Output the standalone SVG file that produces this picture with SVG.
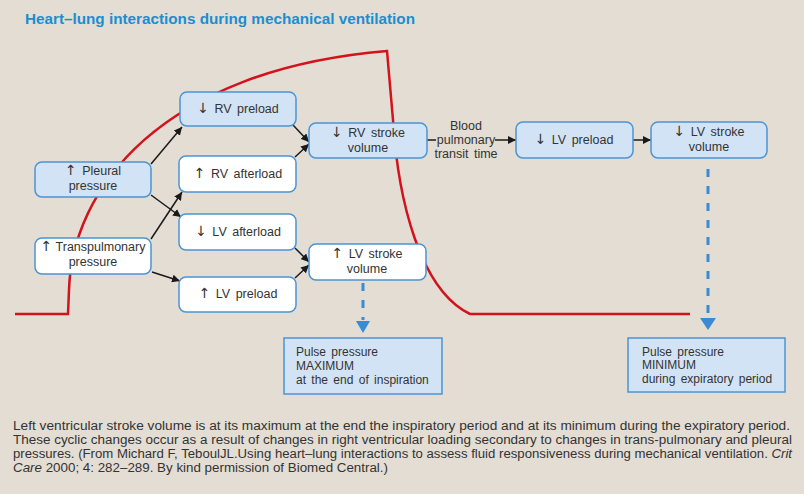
<svg xmlns="http://www.w3.org/2000/svg" width="804" height="494" viewBox="0 0 804 494">
<defs>
<style>
.bg{fill:#e3ddd3}
.title{font-family:"Liberation Sans",Arial,sans-serif;font-weight:bold;font-size:14px;fill:#1b8ed1}
.nb{fill:#d2e3f5;stroke:#4b94d6;stroke-width:1.5}
.nw{fill:#ffffff;stroke:#4b94d6;stroke-width:1.5}
.t{font-family:"Liberation Sans",Arial,sans-serif;font-size:12.5px;fill:#333;text-anchor:middle;word-spacing:2px}
.tl{font-family:"Liberation Sans",Arial,sans-serif;font-size:12px;fill:#333;word-spacing:2px}
.ar{font-family:"DejaVu Sans",sans-serif;font-size:14px}
.cap{font-family:"Liberation Sans",Arial,sans-serif;font-size:12.5px;fill:#333}
.c{stroke:#1a1a1a;stroke-width:1.5;fill:none}
.d{stroke:#3a8ad4;stroke-width:3;fill:none;stroke-dasharray:8 9}
.red{stroke:#d3121c;stroke-width:2.5;fill:none;stroke-linejoin:miter}
</style>
<marker id="ah" viewBox="0 0 10 10" refX="10" refY="5" markerWidth="8" markerHeight="8" markerUnits="userSpaceOnUse" orient="auto">
<path d="M0,0 L10,5 L0,10 z" fill="#1a1a1a"/>
</marker>
</defs>
<rect class="bg" x="0" y="0" width="804" height="494"/>
<text class="title" x="25" y="24" textLength="390" lengthAdjust="spacingAndGlyphs">Heart–lung interactions during mechanical ventilation</text>

<path class="red" d="M15,314 H68 L69,290 C72,190 160,70 387,51 L393,120 C398,200 420,290 470,314 H690"/>

<g id="connectors">
<line class="c" x1="151" y1="164" x2="182" y2="127" marker-end="url(#ah)"/>
<line class="c" x1="151" y1="195" x2="181" y2="217" marker-end="url(#ah)"/>
<line class="c" x1="151" y1="239" x2="182" y2="192" marker-end="url(#ah)"/>
<line class="c" x1="152" y1="272" x2="180" y2="281" marker-end="url(#ah)"/>
<line class="c" x1="293" y1="125" x2="309" y2="142" marker-end="url(#ah)"/>
<line class="c" x1="295" y1="157" x2="309" y2="144" marker-end="url(#ah)"/>
<line class="c" x1="295" y1="248" x2="309" y2="262" marker-end="url(#ah)"/>
<line class="c" x1="295" y1="278" x2="309" y2="265" marker-end="url(#ah)"/>
<line class="c" x1="427" y1="140" x2="436" y2="140"/>
<line class="c" x1="495" y1="140" x2="516" y2="140" marker-end="url(#ah)"/>
<line class="c" x1="633" y1="140" x2="651" y2="140" marker-end="url(#ah)"/>
<line class="d" x1="363" y1="283" x2="363" y2="320"/>
<path d="M356,321 L370,321 L363,333 z" fill="#3a8ad4"/>
<line class="d" x1="708" y1="169" x2="708" y2="318"/>
<path d="M700,318 L716,318 L708,330 z" fill="#3a8ad4"/>
</g>

<g id="pleural">
<rect class="nb" x="35" y="162" width="116" height="35" rx="7"/>
<text class="t" x="93" y="175"><tspan class="ar">↑</tspan> Pleural</text>
<text class="t" x="93" y="190">pressure</text>
</g>
<g id="transpulmonary">
<rect class="nw" x="35" y="238" width="116" height="36" rx="7"/>
<text class="t" x="93" y="251" style="word-spacing:0"><tspan class="ar">↑</tspan> Transpulmonary</text>
<text class="t" x="93" y="266">pressure</text>
</g>
<g id="rv-preload">
<rect class="nb" x="180" y="92" width="116" height="34" rx="7"/>
<text class="t" x="238" y="113"><tspan class="ar">↓</tspan> RV  preload</text>
</g>
<g id="rv-afterload">
<rect class="nw" x="179" y="156" width="117" height="36" rx="7"/>
<text class="t" x="238" y="178"><tspan class="ar">↑</tspan> RV  afterload</text>
</g>
<g id="lv-afterload">
<rect class="nw" x="179" y="214" width="117" height="36" rx="7"/>
<text class="t" x="238" y="236"><tspan class="ar">↓</tspan> LV  afterload</text>
</g>
<g id="lv-preload-up">
<rect class="nw" x="179" y="277" width="117" height="35" rx="7"/>
<text class="t" x="238" y="298"><tspan class="ar">↑</tspan> LV  preload</text>
</g>
<g id="rv-stroke">
<rect class="nb" x="309" y="123" width="118" height="35" rx="7"/>
<text class="t" x="368" y="137"><tspan class="ar">↓</tspan> RV  stroke</text>
<text class="t" x="368" y="152">volume</text>
</g>
<g id="transit">
<text class="t" x="466" y="130" style="word-spacing:0">Blood</text>
<text class="t" x="466" y="144" style="word-spacing:0">pulmonary</text>
<text class="t" x="466" y="158">transit  time</text>
</g>
<g id="lv-preload-down">
<rect class="nb" x="516" y="122" width="117" height="36" rx="7"/>
<text class="t" x="574" y="144"><tspan class="ar">↓</tspan> LV  preload</text>
</g>
<g id="lv-stroke-down">
<rect class="nb" x="651" y="122" width="116" height="36" rx="7"/>
<text class="t" x="709" y="136"><tspan class="ar">↓</tspan> LV  stroke</text>
<text class="t" x="709" y="151">volume</text>
</g>
<g id="lv-stroke-up">
<rect class="nw" x="309" y="244" width="117" height="36" rx="7"/>
<text class="t" x="367" y="258"><tspan class="ar">↑</tspan> LV  stroke</text>
<text class="t" x="367" y="273">volume</text>
</g>
<g id="pulse-max">
<rect class="nb" x="284" y="338" width="158" height="56"/>
<text class="tl" x="296" y="356">Pulse pressure</text>
<text class="tl" x="296" y="370">MAXIMUM</text>
<text class="tl" x="296" y="384">at the end of inspiration</text>
</g>
<g id="pulse-min">
<rect class="nb" x="628" y="338" width="157" height="54"/>
<text class="tl" x="642" y="356">Pulse pressure</text>
<text class="tl" x="642" y="369">MINIMUM</text>
<text class="tl" x="642" y="383">during expiratory period</text>
</g>

<g id="caption">
<text class="cap" x="13" y="430" textLength="777" lengthAdjust="spacingAndGlyphs">Left ventricular stroke volume is at its maximum at the end the inspiratory period and at its minimum during the expiratory period.</text>
<text class="cap" x="13" y="444" textLength="779" lengthAdjust="spacingAndGlyphs">These cyclic changes occur as a result of changes in right ventricular loading secondary to changes in trans-pulmonary and pleural</text>
<text class="cap" x="13" y="458" textLength="779" lengthAdjust="spacingAndGlyphs">pressures. (From Michard F, TeboulJL.Using heart–lung interactions to assess fluid responsiveness during mechanical ventilation. <tspan font-style="italic">Crit</tspan></text>
<text class="cap" x="13" y="472" textLength="375" lengthAdjust="spacingAndGlyphs"><tspan font-style="italic">Care</tspan> 2000; 4: 282–289. By kind permission of Biomed Central.)</text>
</g>
</svg>
